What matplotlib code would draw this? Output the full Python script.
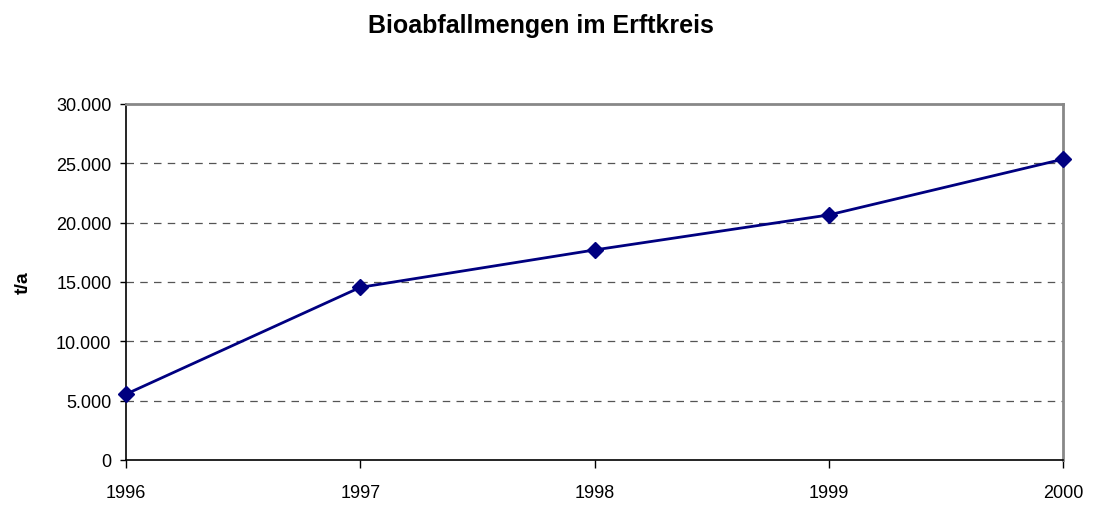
import matplotlib.pyplot as plt
from matplotlib.ticker import FixedLocator

plt.rcParams["font.family"] = ["Liberation Sans", "DejaVu Sans"]

years = [1996, 1997, 1998, 1999, 2000]
mengen = [5550, 14550, 17700, 20650, 25350]
y_ticks = [0, 5000, 10000, 15000, 20000, 25000, 30000]
y_labels = ["0", "5.000", "10.000", "15.000", "20.000", "25.000", "30.000"]

fig = plt.figure(figsize=(11.04, 5.06), dpi=100)
ax = fig.add_axes([126 / 1104, 1 - 461 / 506, 937 / 1104, 356 / 506])

ax.plot(years, mengen, color="#000080", linewidth=2, marker="D",
        markersize=8.5, markerfacecolor="#000080", markeredgecolor="#000080",
        clip_on=False, zorder=3)

ax.set_xlim(years[0], years[-1])
ax.set_ylim(0, 30000)
ax.xaxis.set_major_locator(FixedLocator(years))
ax.set_xticklabels([str(y) for y in years])
ax.set_yticks(y_ticks)
ax.set_yticklabels(y_labels)

for y in y_ticks[1:-1]:
    ax.axhline(y, color="#555555", linestyle=(0, (6, 5)), linewidth=0.9, zorder=1)

ax.tick_params(axis="y", direction="out", length=4.5, width=1, pad=6, labelsize=13, color="black")
ax.tick_params(axis="x", direction="out", length=5.5, width=1, pad=12, labelsize=13, color="black")

ax.spines["left"].set_color("black")
ax.spines["bottom"].set_color("black")
ax.spines["left"].set_linewidth(1.2)
ax.spines["bottom"].set_linewidth(1.2)
ax.spines["top"].set_color("#888888")
ax.spines["right"].set_color("#888888")
ax.spines["top"].set_linewidth(2)
ax.spines["right"].set_linewidth(2)

ax.set_ylabel("t/a", fontsize=14, fontweight="bold")
ax.yaxis.set_label_coords(-94 / 937, 0.5)

fig.text(541 / 1104, 1 - 26 / 506, "Bioabfallmengen im Erftkreis",
         ha="center", va="center", fontsize=18, fontweight="bold")

fig.savefig("out.png", dpi=100)
